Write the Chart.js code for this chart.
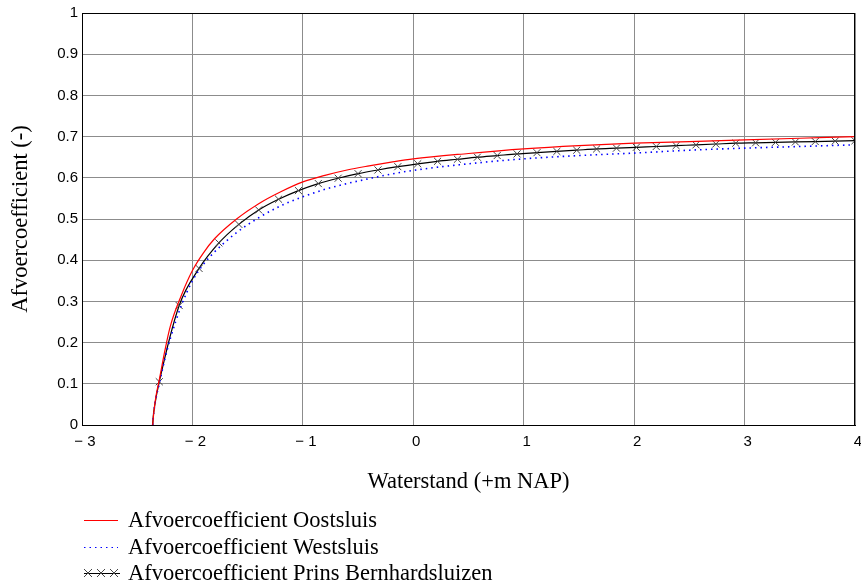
<!DOCTYPE html>
<html>
<head>
<meta charset="utf-8">
<script src="https://cdn.jsdelivr.net/npm/chart.js@4/dist/chart.umd.min.js"></script>
<style>body{margin:0;background:#fff}</style>
</head>
<body>
<canvas id="myChart" width="861" height="587"></canvas>
<script>
// Waterstand (+m NAP) -> afvoercoefficient
var oostX = [-2.36, -2.35, -2.33, -2.3, -2.25, -2.2, -2.1, -2.0, -1.9, -1.8, -1.6, -1.4, -1.2, -1.0, -0.8, -0.6, -0.4, -0.2, 0, 0.5, 1, 1.5, 2, 2.5, 3, 3.5, 4];
var oostY = [0, 0.03, 0.07, 0.11, 0.18, 0.24, 0.315, 0.375, 0.418, 0.452, 0.500, 0.537, 0.566, 0.59, 0.606, 0.619, 0.629, 0.638, 0.646, 0.659, 0.67, 0.678, 0.684, 0.688, 0.692, 0.696, 0.70];

var westX = [-2.36, -2.35, -2.33, -2.3, -2.25, -2.2, -2.1, -2.0, -1.9, -1.8, -1.6, -1.4, -1.2, -1.0, -0.8, -0.6, -0.4, -0.2, 0, 0.5, 1, 1.5, 2, 2.5, 3, 3.5, 4];
var westY = [0, 0.03, 0.065, 0.10, 0.16, 0.21, 0.29, 0.35, 0.39, 0.42, 0.467, 0.503, 0.532, 0.554, 0.572, 0.586, 0.598, 0.609, 0.618, 0.634, 0.646, 0.654, 0.66, 0.667, 0.672, 0.676, 0.68];

var prinsX = [-2.36, -2.355, -2.34, -2.30, -2.12, -1.94, -1.76, -1.58, -1.40, -1.22, -1.04, -0.86, -0.68, -0.50, -0.32, -0.14, 0.04, 0.22, 0.40, 0.58, 0.76, 0.94, 1.12, 1.30, 1.48, 1.66, 1.84, 2.02, 2.20, 2.38, 2.56, 2.74, 2.92, 3.10, 3.28, 3.46, 3.64, 3.82, 4.00];
var prinsY = [0, 0.02, 0.05, 0.105, 0.29, 0.38, 0.442, 0.487, 0.522, 0.548, 0.569, 0.586, 0.599, 0.610, 0.619, 0.627, 0.634, 0.640, 0.645, 0.650, 0.654, 0.658, 0.661, 0.664, 0.667, 0.670, 0.672, 0.674, 0.676, 0.678, 0.680, 0.682, 0.684, 0.685, 0.686, 0.687, 0.688, 0.689, 0.690];
var prinsMarkerFrom = 3; // first marked point

var xTicks = [-3, -2, -1, 0, 1, 2, 3, 4];
var labels = ['Afvoercoefficient Oostsluis', 'Afvoercoefficient Westsluis', 'Afvoercoefficient Prins Bernhardsluizen'];

function pts(xs, ys) {
    var out = [];
    for (var i = 0; i < xs.length; i++) out.push({x: xs[i], y: ys[i]});
    return out;
}

var serif = '"Liberation Serif", "Times New Roman", serif';
var sans = '"Liberation Sans", Arial, sans-serif';

// box round the plot + legend under the chart
var extras = {
    id: 'extras',
    afterDraw: function(chart) {
        var c = chart.ctx, a = chart.chartArea;
        c.save();
        c.strokeStyle = '#000';
        c.lineWidth = 1;
        c.strokeRect(Math.round(a.left) + 0.5, Math.round(a.top) + 0.5, Math.round(a.right - a.left) - 1, Math.round(a.bottom - a.top));

        c.font = '22.5px ' + serif;
        c.fillStyle = '#000';
        c.textBaseline = 'middle';
        var ys = [520, 547, 573];
        // red line
        c.strokeStyle = '#ff0000';
        c.beginPath(); c.moveTo(84, ys[0] + 0.5); c.lineTo(118, ys[0] + 0.5); c.stroke();
        // blue dotted
        c.strokeStyle = '#0000ff';
        c.setLineDash([1.5, 4]);
        c.beginPath(); c.moveTo(84, ys[1] + 0.5); c.lineTo(118, ys[1] + 0.5); c.stroke();
        c.setLineDash([]);
        // black with crosses
        c.strokeStyle = '#000';
        c.beginPath(); c.moveTo(84, ys[2] + 0.5); c.lineTo(120, ys[2] + 0.5); c.stroke();
        c.strokeStyle = '#444';
        [88, 101, 114].forEach(function(px) {
            c.beginPath();
            c.moveTo(px - 4, ys[2] - 4); c.lineTo(px + 4, ys[2] + 4);
            c.moveTo(px + 4, ys[2] - 4); c.lineTo(px - 4, ys[2] + 4);
            c.stroke();
        });
        for (var i = 0; i < labels.length; i++) c.fillText(labels[i], 128, ys[i] + 1);
        c.restore();
    }
};

var ctx = document.getElementById('myChart').getContext('2d');
var chart = new Chart(ctx, {
    type: 'line',
    data: {
        datasets: [{
            label: labels[0],
            data: pts(oostX, oostY),
            borderColor: '#ff0000',
            borderWidth: 1.2,
            pointRadius: 0,
            cubicInterpolationMode: 'monotone'
        }, {
            label: labels[1],
            data: pts(westX, westY),
            borderColor: '#0000ff',
            borderWidth: 1.6,
            borderDash: [1.5, 4],
            pointRadius: 0,
            cubicInterpolationMode: 'monotone'
        }, {
            label: labels[2],
            data: pts(prinsX, prinsY),
            borderColor: '#000',
            borderWidth: 1.2,
            pointStyle: 'crossRot',
            pointBorderColor: '#444',
            pointBorderWidth: 1,
            pointRadius: function(c) { return c.dataIndex >= prinsMarkerFrom ? 5 : 0; },
            cubicInterpolationMode: 'monotone'
        }]
    },
    options: {
        responsive: false,
        animation: false,
        layout: {padding: {top: 13, right: 5, bottom: 87, left: 0}},
        plugins: {legend: {display: false}, tooltip: {enabled: false}},
        scales: {
            x: {
                type: 'linear',
                min: -3, max: 4,
                afterBuildTicks: function(s) { s.ticks = xTicks.map(function(v) { return {value: v}; }); },
                afterFit: function(s) { s.height = 75; s.paddingRight = 0; s.paddingLeft = 0; },
                grid: {color: '#8c8c8c', drawTicks: false},
                border: {color: '#000'},
                ticks: {
                    color: '#000', padding: 8, maxRotation: 0, labelOffset: 3,
                    font: {family: sans, size: 15},
                    callback: function(v) { return v < 0 ? '\u2212 ' + (-v) : String(v); }
                },
                title: {display: true, text: 'Waterstand (+m NAP)', color: '#000', font: {family: serif, size: 22.5}, padding: {top: 4, bottom: 4}}
            },
            y: {
                min: 0, max: 1,
                ticks: {
                    stepSize: 0.1, color: '#000', padding: 4,
                    font: {family: sans, size: 15},
                    callback: function(v) { return String(+v.toFixed(1)); }
                },
                afterFit: function(s) { s.width = 82; },
                grid: {color: '#8c8c8c', drawTicks: false},
                border: {color: '#000'},
                title: {display: true, text: 'Afvoercoefficient (-)', color: '#000', font: {family: serif, size: 22.5}, padding: {top: 8, bottom: 4}}
            }
        }
    },
    plugins: [extras]
});
</script>
</body>
</html>
